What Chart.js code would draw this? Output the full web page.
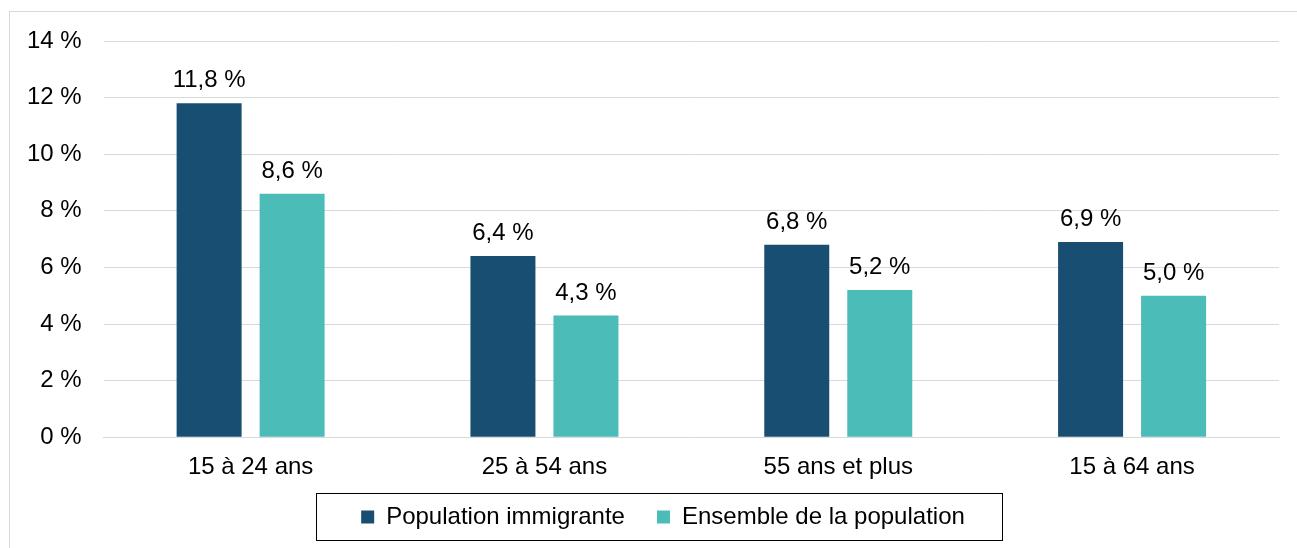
<!DOCTYPE html>
<html>
<head>
<meta charset="utf-8">
<script src="https://cdn.jsdelivr.net/npm/chart.js@4/dist/chart.umd.min.js"></script>
<style>
  body { margin: 0; background: #fff; }
  #frame { position: absolute; left: 9px; top: 11px; width: 1400px; height: 600px; border: 1px solid #d9d9d9; }
  #wrap { position: absolute; left: 0; top: 0; width: 1297px; height: 548px; }
</style>
</head>
<body>
<div id="frame"></div>
<div id="wrap"><canvas id="chart"></canvas></div>
<script>
const categories = ["15 à 24 ans", "25 à 54 ans", "55 ans et plus", "15 à 64 ans"];
const immigrants = [11.8, 6.4, 6.8, 6.9];
const ensemble = [8.6, 4.3, 5.2, 5.0];
const yTicks = [0, 2, 4, 6, 8, 10, 12, 14];

const FONT = "'Liberation Sans', Arial, sans-serif";

function fmt(v) {
    return v.toFixed(1).replace(".", ",") + " %";
}

// labels above each bar
const barLabels = {
    id: "barLabels",
    afterDatasetsDraw(chart) {
        const ctx = chart.ctx;
        ctx.save();
        ctx.font = "24px " + FONT;
        ctx.fillStyle = "#000";
        ctx.textAlign = "center";
        ctx.textBaseline = "alphabetic";
        chart.data.datasets.forEach((ds, i) => {
            chart.getDatasetMeta(i).data.forEach((bar, j) => {
                ctx.fillText(fmt(ds.data[j]), bar.x, bar.y - 16);
            });
        });
        ctx.restore();
    }
};

// legend takes less room in the layout, then is moved a bit
const legendPlace = {
    id: "legendPlace",
    afterInit(chart) {
        const legend = chart.legend;
        const fit = legend.fit;
        legend.fit = function () {
            fit.call(this);
            this.height = 58;
        };
    },
    afterLayout(chart) {
        const legend = chart.legend;
        legend.top -= 17;
        legend.bottom -= 17;
        legend.left += 21;
        legend.right += 21;
    }
};

// frame around the legend
const legendBox = {
    id: "legendBox",
    afterDraw(chart) {
        const boxes = chart.legend.legendHitBoxes;
        if (!boxes || !boxes.length) return;
        const first = boxes[0], last = boxes[boxes.length - 1];
        const left = first.left - 45;
        const right = last.left + last.width + 37;
        const cy = first.top + first.height / 2;
        const ctx = chart.ctx;
        ctx.save();
        ctx.strokeStyle = "#000";
        ctx.lineWidth = 1;
        ctx.strokeRect(Math.round(left) + 0.5, Math.round(cy - 24) + 0.5, Math.round(right - left), 47);
        ctx.restore();
    }
};

new Chart(document.getElementById("chart"), {
    type: "bar",
    data: {
        labels: categories,
        datasets: [{
            label: "Population immigrante",
            data: immigrants,
            backgroundColor: "#174e71"
        }, {
            label: "Ensemble de la population",
            data: ensemble,
            backgroundColor: "#4bbcb8"
        }]
    },
    options: {
        responsive: true,
        maintainAspectRatio: false,
        animation: false,
        layout: { padding: { left: 5, right: 18, top: 41, bottom: 0 } },
        datasets: { bar: { categoryPercentage: 0.565, barPercentage: 0.783 } },
        scales: {
            x: {
                grid: { display: false },
                border: { display: true, color: "#d9d9d9" },
                ticks: { color: "#000", font: { family: FONT, size: 24 }, padding: 8 }
            },
            y: {
                min: 0,
                max: 14,
                afterBuildTicks: axis => { axis.ticks = yTicks.map(v => ({ value: v })); },
                grid: { color: "#d9d9d9", drawTicks: false },
                border: { display: false },
                ticks: {
                    color: "#000",
                    font: { family: FONT, size: 24 },
                    padding: 22,
                    callback: v => v + " %"
                }
            }
        },
        plugins: {
            legend: {
                position: "bottom",
                labels: {
                    color: "#000",
                    font: { family: FONT, size: 24 },
                    boxWidth: 13,
                    boxHeight: 13,
                    padding: 32
                }
            },
            tooltip: { enabled: false }
        }
    },
    plugins: [barLabels, legendPlace, legendBox]
});
</script>
</body>
</html>
